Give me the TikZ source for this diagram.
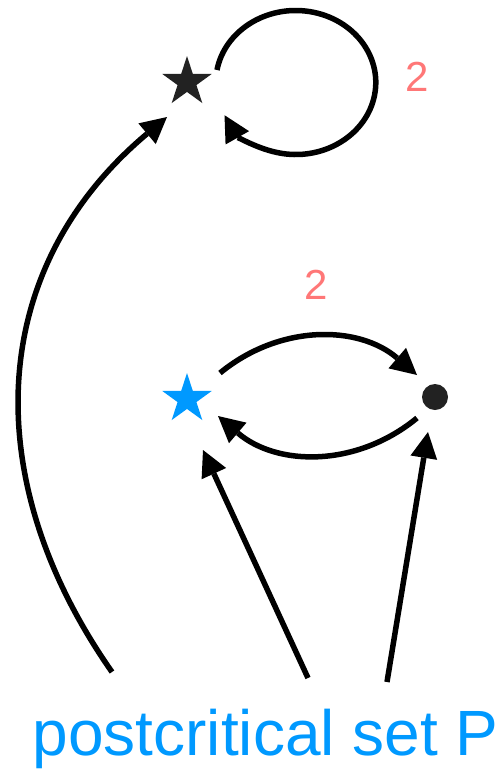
\documentclass[tikz,border=0pt]{standalone}
\usepackage{fontspec}
\setmainfont{Liberation Sans}
\usepackage{tikz}
\usetikzlibrary{shapes.geometric,arrows.meta,calc}
\definecolor{pcblue}{RGB}{0,153,255}
\definecolor{pcdark}{RGB}{34,34,34}
\definecolor{pcred}{RGB}{255,119,119}
\tikzset{
  critstar/.style={star, star points=5, star point ratio=2.618, minimum size=52pt, inner sep=0pt, draw=none, fill=pcdark},
  bluestar/.style={critstar, fill=pcblue},
  critdot/.style={circle, minimum size=26pt, inner sep=0pt, draw=none, fill=pcdark},
  degree/.style={font=\fontsize{42}{42}\selectfont, text=pcred, inner sep=0pt},
  arrow/.style={-{Triangle[length=26pt, width=27pt, line width=0pt]}, line width=5.5pt},
}

\begin{document}
\begin{tikzpicture}[x=1pt, y=1pt]
  \useasboundingbox (0,0) rectangle (495,-769);
  \clip (0,0) rectangle (495,-769);

  % Points
  \node[critstar] (top) at (187,-82) {};
  \node[bluestar] (crit) at (187,-399) {};
  \node[critdot] (img) at (435,-397) {};

  % Degrees
  \node[degree] (degtop) at (417,-77) {2};
  \node[degree] (degcrit) at (316,-285) {2};

  % Label
  \node[anchor=base west, inner sep=0pt, text=pcblue, font=\fontsize{64}{64}\selectfont] (post) at (32.5,-755) {postcritical set P};
  \coordinate (posta) at (112,-672);
  \coordinate (postb) at (308,-678);
  \coordinate (postc) at (387,-682);

  % Self map of the top point
  \draw[arrow] ([shift={(30,12)}]top.center) arc[start angle=170, end angle=-153, x radius=80pt, y radius=72pt];

  % Two-cycle
  \draw[arrow] ([shift={(33,26)}]crit.center) to[bend left=40] ([shift={(-18,22)}]img.center);
  \draw[arrow] ([shift={(-18,-21)}]img.center) to[bend left=40] ([shift={(31,-17)}]crit.center);

  % From the label
  \draw[arrow] (posta) to[out=125, in=220, looseness=1.08] ([shift={(-20,-35)}]top.center);
  \draw[arrow] (postb) -- ([shift={(16,-51)}]crit.center);
  \draw[arrow] (postc) -- ([shift={(-7,-35)}]img.center);
\end{tikzpicture}
\end{document}
